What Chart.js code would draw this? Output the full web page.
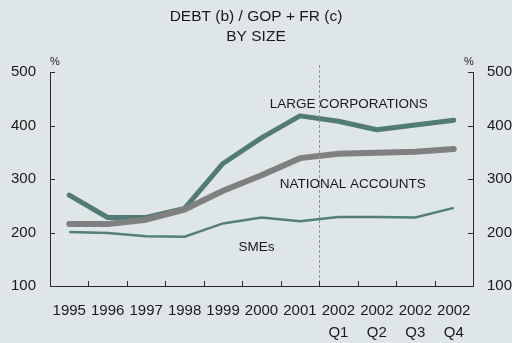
<!DOCTYPE html>
<html>
<head>
<meta charset="utf-8">
<script src="https://cdn.jsdelivr.net/npm/chart.js@4.4.1/dist/chart.umd.min.js"></script>
<style>
  html, body { margin: 0; padding: 0; background: #dfe6e8; }
  #wrap { width: 512px; height: 343px; }
</style>
</head>
<body>
<div id="wrap"><canvas id="debtChart" width="512" height="343"></canvas></div>
<script>
// periods along the x axis (years, then 2002 by quarter)
const periods = [
  "1995", "1996", "1997", "1998", "1999", "2000", "2001",
  ["2002", "Q1"], ["2002", "Q2"], ["2002", "Q3"], ["2002", "Q4"]
];

// debt / (GOP + FR), %
const largeCorporations = [270, 228, 228, 245, 329, 377, 418, 408, 392, 401, 410];
const nationalAccounts = [216, 216, 224, 243, 278, 307, 339, 347, 349, 351, 356];
const smes = [201, 199, 193, 192, 217, 228, 221, 229, 229, 228, 246];

const yTicks = [100, 200, 300, 400, 500];

const titleLines = ["DEBT (b) / GOP + FR (c)", "BY SIZE"];

const FONT = "'Liberation Sans', Arial, sans-serif";
const TEXT = "#1a1a1a";
const AXIS = "#2b2b2b";

// title, % units, series names, inward tick marks and the annual/quarterly divider
const decorations = {
  id: "decorations",
  afterDraw(chart) {
    const ctx = chart.ctx;
    const area = chart.chartArea;
    const x = chart.scales.x;
    const y = chart.scales.y;
    ctx.save();

    ctx.fillStyle = TEXT;
    ctx.font = "15.5px " + FONT;
    ctx.textAlign = "center";
    ctx.textBaseline = "middle";
    ctx.fillText(titleLines[0], chart.width / 2, 17);
    ctx.fillText(titleLines[1], chart.width / 2, 37);

    ctx.font = "11px " + FONT;
    ctx.fillText("%", area.left + 5, area.top - 10);
    ctx.fillText("%", area.right - 4, area.top - 10);

    ctx.font = "13.5px " + FONT;
    ctx.fillText("LARGE CORPORATIONS", x.getPixelForValue(8) - 28, y.getPixelForValue(440));
    ctx.fillText("NATIONAL ACCOUNTS", x.getPixelForValue(8) - 24, y.getPixelForValue(291));
    ctx.fillText("SMEs", x.getPixelForValue(5) - 5, y.getPixelForValue(172));

    // divider between 2001 and 2002 Q1
    const divX = Math.round((x.getPixelForValue(6) + x.getPixelForValue(7)) / 2) + 0.5;
    ctx.strokeStyle = "#8f9597";
    ctx.lineWidth = 1;
    ctx.setLineDash([3, 2]);
    ctx.beginPath();
    ctx.moveTo(divX, area.top - 7);
    ctx.lineTo(divX, area.bottom);
    ctx.stroke();
    ctx.setLineDash([]);

    // inward tick marks
    ctx.strokeStyle = AXIS;
    ctx.beginPath();
    for (let i = 0; i < periods.length - 1; i++) {
      const bx = Math.round((x.getPixelForValue(i) + x.getPixelForValue(i + 1)) / 2) + 0.5;
      ctx.moveTo(bx, area.bottom);
      ctx.lineTo(bx, area.bottom - 5);
    }
    yTicks.forEach(function (v) {
      const py = Math.round(y.getPixelForValue(v)) + 0.5;
      ctx.moveTo(area.left, py);
      ctx.lineTo(area.left + 5, py);
      ctx.moveTo(area.right, py);
      ctx.lineTo(area.right - 5, py);
    });
    ctx.stroke();
    ctx.restore();
  }
};

const ctx = document.getElementById("debtChart").getContext("2d");

const debtChart = new Chart(ctx, {
  type: "line",
  data: {
    labels: periods,
    datasets: [
      {
        label: "National accounts",
        data: nationalAccounts,
        borderColor: "#808080",
        borderWidth: 6,
        borderCapStyle: "round",
        borderJoinStyle: "round",
        pointRadius: 0,
        tension: 0,
        yAxisID: "y"
      },
      {
        label: "Large corporations",
        data: largeCorporations,
        borderColor: "#517b75",
        borderWidth: 5,
        borderCapStyle: "round",
        borderJoinStyle: "round",
        pointRadius: 0,
        tension: 0,
        yAxisID: "y"
      },
      {
        label: "SMEs",
        data: smes,
        borderColor: "#527f79",
        borderWidth: 2.5,
        pointRadius: 0,
        tension: 0,
        yAxisID: "y"
      }
    ]
  },
  options: {
    responsive: false,
    animation: false,
    devicePixelRatio: 1,
    layout: { padding: { top: 72, left: 0, right: 0, bottom: 0 } },
    plugins: {
      legend: { display: false },
      title: { display: false },
      tooltip: { enabled: false }
    },
    scales: {
      x: {
        type: "category",
        offset: true,
        grid: { display: false, drawTicks: false },
        border: { display: true, color: AXIS, width: 1 },
        ticks: {
          color: TEXT,
          font: { family: FONT, size: 15, lineHeight: 1.47 },
          padding: 14,
          maxRotation: 0,
          autoSkip: false
        },
        afterFit(scale) { scale.height = 57; }
      },
      y: {
        position: "left",
        min: 100,
        max: 500,
        grid: { display: false, drawTicks: false },
        border: { display: true, color: AXIS, width: 1 },
        ticks: {
          stepSize: 100,
          color: TEXT,
          font: { family: FONT, size: 15 },
          padding: 14
        },
        afterFit(scale) { scale.width = 50; }
      },
      y2: {
        position: "right",
        min: 100,
        max: 500,
        grid: { display: false, drawTicks: false },
        border: { display: true, color: AXIS, width: 1 },
        ticks: {
          stepSize: 100,
          color: TEXT,
          font: { family: FONT, size: 15 },
          padding: 14
        },
        afterFit(scale) { scale.width = 39; }
      }
    }
  },
  plugins: [decorations]
});
</script>
</body>
</html>
